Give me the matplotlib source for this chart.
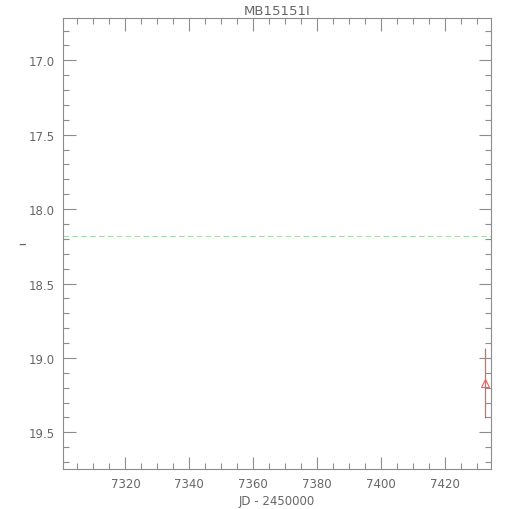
import matplotlib
matplotlib.use("Agg")
import matplotlib.pyplot as plt
from matplotlib.ticker import MultipleLocator

title = "MB15151I"
jd = [7432.3]
mag = [19.17]
mag_err = [0.235]
baseline = 18.18
xlim = (7300.5, 7434.3)
ylim = (19.746, 16.716)

gray = "#8c8c8c"
red = "#ff5a5a"
fig = plt.figure(figsize=(5.1, 5.1), dpi=100)
ax = fig.add_axes([63/510, 1-470/510, (491-63)/510, (470-19)/510])
ax.set_xlim(*xlim)
ax.set_ylim(*ylim)

ax.axhline(baseline, color="#a8dca8", lw=0.8, ls=(0, (5, 3)))
ax.errorbar(jd, mag, yerr=mag_err, fmt="^", mfc="none", mec=red,
            color=red, ecolor=red, ms=6, mew=0.8, elinewidth=0.9,
            capsize=0, zorder=5)

ax.xaxis.set_major_locator(MultipleLocator(20))
ax.xaxis.set_minor_locator(MultipleLocator(5))
ax.yaxis.set_major_locator(MultipleLocator(0.5))
ax.yaxis.set_minor_locator(MultipleLocator(0.1))
ax.yaxis.set_major_formatter(plt.FormatStrFormatter("%.1f"))
ax.tick_params(which="both", direction="in", top=True, right=True, color=gray,
               labelcolor="#666666", labelsize=8.5, width=0.8)
ax.tick_params(which="major", length=9, pad=6)
ax.tick_params(which="minor", length=4)
for s in ax.spines.values():
    s.set_color(gray)
    s.set_linewidth(0.8)

ax.set_title(title, color="#666666", fontsize=9.5, pad=3)
ax.set_xlabel("JD - 2450000", color="#666666", fontsize=8.5, labelpad=3)
fig.text(22/510, 1-244/510, "\u2013", color="#666666", fontsize=11,
         ha="center", va="center")

fig.savefig("out.png", dpi=100)
